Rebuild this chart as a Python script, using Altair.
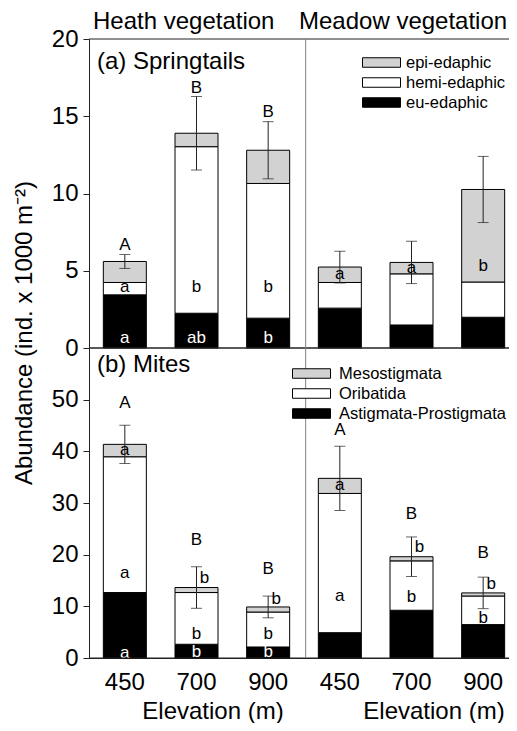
import altair as alt
import pandas as pd

FONT = "Liberation Sans"

# ---------------- data ----------------
sites = ["H450", "H700", "H900", "M450", "M700", "M900"]

# (a) Springtails: segment heights (ind. x 1000 m-2)
spr_groups = ["epi-edaphic", "hemi-edaphic", "eu-edaphic"]
spr_eu = [3.44, 2.25, 1.93, 2.58, 1.49, 1.99]
spr_hemi = [0.80, 10.78, 8.72, 1.66, 3.31, 2.28]
spr_epi = [1.36, 0.87, 2.15, 1.00, 0.74, 5.99]
spr_se = [0.45, 2.38, 1.85, 1.03, 1.37, 2.14]

# (b) Mites
mite_groups = ["Mesostigmata", "Oribatida", "Astigmata-Prostigmata"]
mite_astig = [12.67, 2.66, 2.13, 4.90, 9.24, 6.46]
mite_orib = [26.28, 10.01, 6.77, 26.95, 9.56, 5.54]
mite_meso = [2.40, 0.97, 0.98, 2.92, 0.80, 0.60]
mite_se = [3.70, 4.02, 2.10, 6.20, 3.83, 3.05]

grey_white_black = ["#d2d2d2", "#ffffff", "#000000"]

# significance letters (site, text, level, on black segment, beside error bar)
spr_let_site = ["H450", "H450", "H450", "H700", "H700", "H700", "H900", "H900", "H900", "M450", "M700", "M900"]
spr_let_text = ["A", "a", "a", "B", "b", "ab", "B", "b", "b", "a", "a", "b"]
spr_let_y = [6.67, 3.94, 0.63, 16.83, 3.94, 0.63, 15.30, 3.94, 0.63, 4.79, 5.16, 5.28]
spr_let_dark = [False, False, True, False, False, True, False, False, True, False, False, False]
spr_let_side = [False] * 12

mite_let_site = ["H450", "H450", "H450", "H450",
                 "H700", "H700", "H700", "H700",
                 "H900", "H900", "H900", "H900",
                 "M450", "M450", "M450",
                 "M700", "M700", "M700",
                 "M900", "M900", "M900"]
mite_let_text = ["A", "a", "a", "a",
                 "B", "b", "b", "b",
                 "B", "b", "b", "b",
                 "A", "a", "a",
                 "B", "b", "b",
                 "B", "b", "b"]
mite_let_y = [49.36, 40.30, 16.40, 1.05,
              22.80, 15.40, 4.73, 1.16,
              17.20, 11.50, 4.73, 1.16,
              44.20, 33.40, 11.97,
              27.90, 21.40, 11.80,
              20.30, 14.40, 7.80]
mite_let_dark = [False, False, False, True,
                 False, False, False, True,
                 False, False, False, True,
                 False, False, False,
                 False, False, False,
                 False, False, False]
mite_let_side = [False, False, False, False,
                 False, True, False, False,
                 False, True, False, False,
                 False, False, False,
                 False, True, False,
                 False, True, False]


def stack_table(groups_bottom_up, series):
    rows = []
    for i, s in enumerate(sites):
        for k, (g, vals) in enumerate(zip(groups_bottom_up, series)):
            rows.append({"site": s, "group": g, "value": vals[i], "order": k})
    return pd.DataFrame(rows)


def err_table(series, se):
    rows = []
    for i, s in enumerate(sites):
        tot = sum(v[i] for v in series)
        rows.append({"site": s, "lo": tot - se[i], "hi": tot + se[i]})
    return pd.DataFrame(rows)


def letter_table(site, text, y, dark, side):
    return pd.DataFrame({"site": site, "text": text, "y": y, "dark": dark, "side": side})


spr_df = stack_table(["eu-edaphic", "hemi-edaphic", "epi-edaphic"], [spr_eu, spr_hemi, spr_epi])
spr_err = err_table([spr_eu, spr_hemi, spr_epi], spr_se)
spr_let = letter_table(spr_let_site, spr_let_text, spr_let_y, spr_let_dark, spr_let_side)

mite_df = stack_table(["Astigmata-Prostigmata", "Oribatida", "Mesostigmata"], [mite_astig, mite_orib, mite_meso])
mite_err = err_table([mite_astig, mite_orib, mite_meso], mite_se)
mite_let = letter_table(mite_let_site, mite_let_text, mite_let_y, mite_let_dark, mite_let_side)

# ---------------- encodings ----------------
LINE = "#222222"
XSCALE = alt.Scale(domain=sites, range=[0, 430], paddingInner=0.4, paddingOuter=0.2)
XAXIS = alt.Axis(
    title=None, labelExpr="substring(datum.label, 1)", ticks=False, labelPadding=12,
    labelFontSize=24, labelFont=FONT, labelColor="black", labelAngle=0,
    domainColor=LINE, domainWidth=1, grid=False,
)
X = alt.X("site:N", scale=XSCALE, axis=XAXIS)


def yscale(dom, rng):
    return alt.Scale(domain=dom, range=rng, nice=False, zero=True)


def y_axis(values):
    return alt.Axis(
        values=values, orient="left", title=None, grid=False, tickSize=6, labelPadding=5,
        labelFont=FONT, labelFontSize=24, labelColor="black",
        domainColor=LINE, tickColor=LINE, domainWidth=1, tickWidth=1,
    )


def legend(x, y, label_offset):
    # wide flat swatch (38 x 9.5 px) drawn from a small nominal symbol size
    return alt.Legend(
        title=None, orient="none", legendX=x, legendY=y,
        symbolType="M-1.9,-0.475H1.9V0.475H-1.9Z", symbolSize=400,
        symbolStrokeColor="black", symbolStrokeWidth=1, symbolOpacity=1,
        labelFont=FONT, labelFontSize=16.5, labelColor="black", labelOffset=label_offset,
        labelLimit=0, rowPadding=1, padding=0,
    )


def panel(df, err, let, groups, dom, rng, ticks, leg):
    sc = yscale(dom, rng)
    ax = y_axis(ticks)
    bars = alt.Chart(df).mark_bar(stroke="black", strokeWidth=1).encode(
        x=X,
        y=alt.Y("value:Q", stack="zero", scale=sc, axis=ax),
        fill=alt.Fill("group:N", scale=alt.Scale(domain=groups, range=grey_white_black),
                      legend=legend(*leg)),
        order=alt.Order("order:Q", sort="ascending"),
    )
    rule = alt.Chart(err).mark_rule(color=LINE, strokeWidth=1).encode(
        x=X, y=alt.Y("lo:Q", scale=sc, axis=ax), y2="hi:Q")
    cap_lo = alt.Chart(err).mark_tick(color=LINE, size=11, thickness=1).encode(
        x=X, y=alt.Y("lo:Q", scale=sc, axis=ax))
    cap_hi = alt.Chart(err).mark_tick(color=LINE, size=11, thickness=1).encode(
        x=X, y=alt.Y("hi:Q", scale=sc, axis=ax))
    color = alt.condition("datum.dark", alt.value("white"), alt.value("black"))
    txt_c = alt.Chart(let).transform_filter("!datum.side").mark_text(
        font=FONT, fontSize=17, baseline="middle", align="center").encode(
        x=X, y=alt.Y("y:Q", scale=sc, axis=ax), text="text:N", color=color)
    txt_s = alt.Chart(let).transform_filter("datum.side").mark_text(
        font=FONT, fontSize=17, baseline="middle", align="center", dx=8).encode(
        x=X, y=alt.Y("y:Q", scale=sc, axis=ax), text="text:N", color=color)
    edges = alt.Chart(pd.DataFrame({"v": [dom[0], dom[1]]})).mark_rule(
        color=LINE, strokeWidth=1).encode(y=alt.Y("v:Q", scale=sc, axis=ax))
    return alt.layer(bars, rule, cap_lo, cap_hi, txt_c, txt_s, edges)


panel_a = panel(spr_df, spr_err, spr_let, spr_groups, [0, 20], [309, 0], [0, 5, 10, 15, 20], (282, 13, 14))
panel_b = panel(mite_df, mite_err, mite_let, mite_groups, [0, 60], [619, 309], [0, 10, 20, 30, 40, 50], (212, 324, 17))

# vertical divider between heath and meadow groups (just right of the H900 band)
separator = alt.Chart(pd.DataFrame({"site": ["H900"]})).mark_rule(
    color="#808080", strokeWidth=1, xOffset=16
).encode(
    x=alt.X("site:N", scale=XSCALE, bandPosition=1, axis=XAXIS)
)


def label(text, x, y, size, align="left", angle=0):
    return alt.Chart(pd.DataFrame({"t": [text]})).mark_text(
        font=FONT, fontSize=size, align=align, baseline="middle", angle=angle, color="black"
    ).encode(text="t:N", x=alt.value(x), y=alt.value(y))


texts = alt.layer(
    label("Heath vegetation", 4, -17, 24),
    label("Meadow vegetation", 210, -17, 24),
    label("(a) Springtails", 8, 23, 24),
    label("(b) Mites", 8, 326, 24),
    label("Elevation (m)", 124, 673, 24, align="center"),
    label("Elevation (m)", 345, 673, 24, align="center"),
    label("Abundance (ind. x 1000 m\u207b\u00b2)", -64, 294, 24, align="center", angle=270),
)

chart = alt.layer(panel_a, panel_b, separator, texts).resolve_scale(
    y="independent", fill="independent"
).properties(
    width=420, height=619,
    autosize=alt.AutoSizeParams(type="none"),
    padding={"left": 81, "top": 31, "right": 0, "bottom": 65},
    background="white",
).configure_view(stroke=None)

chart.save("out.html", embed_options={"renderer": "svg", "actions": False})
